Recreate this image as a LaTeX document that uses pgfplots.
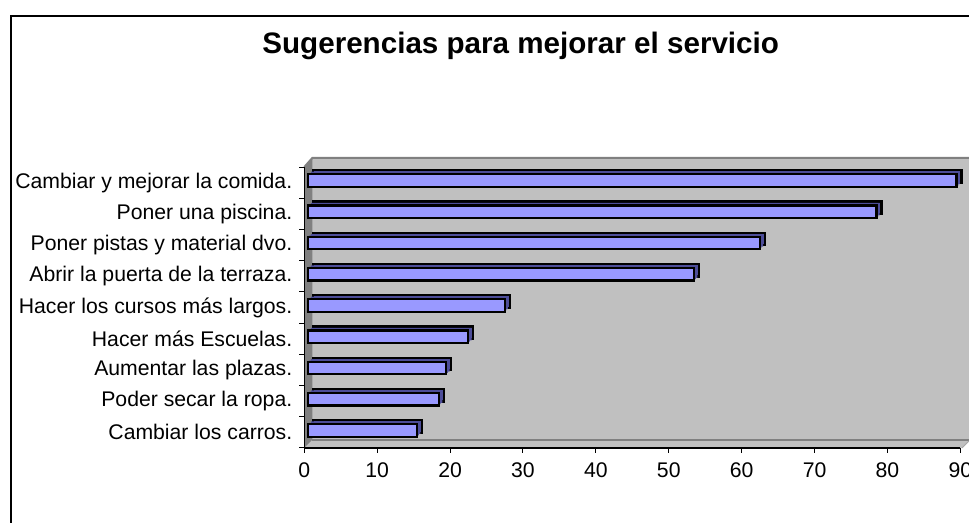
\documentclass[border=0pt]{standalone}
\usepackage{fontspec}
\setmainfont{Liberation Sans}
\usepackage{pgfplots}
\usepackage{pgfplotstable}
\pgfplotsset{compat=1.18}
\definecolor{barfill}{HTML}{9999FF}
\definecolor{barside}{HTML}{4D4D99}
\definecolor{wall}{HTML}{C0C0C0}
\definecolor{wallside}{HTML}{808080}

\pgfplotstableread{
v c
15 0
18 1
19 2
22 3
27 4
53 5
62 6
78 7
89 8
}\datatable

\begin{document}
\begin{tikzpicture}
\useasboundingbox (-152.15pt,-37.5pt) rectangle (332.35pt,224pt);
% chart frame
\draw[line width=0.6pt] (-146.65pt,-45pt) -- (-146.65pt,216pt) -- (345pt,216pt);
% title
\node[anchor=base west, inner sep=0pt, font=\fontsize{14.8}{17}\selectfont\bfseries] at (-21.15pt,197pt) {Sugerencias para mejorar el servicio};
% 3D walls
\fill[wall] (4pt,4pt) rectangle (332.85pt,145pt);
\fill[wallside] (0,0) -- (0,140.5pt) -- (4pt,145pt) -- (4pt,4pt) -- cycle;
\fill[wall] (0,0) -- (4pt,4pt) -- (332.85pt,4pt) -- (328.85pt,0) -- cycle;
\draw[wallside, line width=0.9pt] (4pt,4pt) -- (332.85pt,4pt);
\draw[wallside, line width=1pt] (0,140.5pt) -- (4pt,145pt) -- (332.85pt,145pt);
\draw[wallside!70, line width=0.5pt] (328.85pt,0) -- (332.85pt,4pt);
\begin{axis}[
  at={(0pt,0pt)}, anchor=south west,
  scale only axis, width=328.05pt, height=140.5pt,
  xmin=0, xmax=90, ymin=-0.5, ymax=8.5,
  axis lines*=left,
  axis line style={line width=0.6pt, black},
  xtick={0,10,20,30,40,50,60,70,80,90},
  ytick={-0.5,0.5,1.5,2.5,3.5,4.5,5.5,6.5,7.5,8.5},
  yticklabels={Cambiar los carros., Poder secar la ropa., Aumentar las plazas., Hacer más Escuelas., Hacer los cursos más largos., Abrir la puerta de la terraza., Poner pistas y material dvo., Poner una piscina., Cambiar y mejorar la comida., {}},
  yticklabel style={yshift=7.806pt},
  xticklabel style={yshift=-1.5pt},
  tick align=outside, major tick length=2.5pt,
  tick style={black, line width=0.5pt},
  tick label style={font=\fontsize{10.6}{12}\selectfont},
  /pgf/number format/assume math mode=true,
  clip=false,
]
\addplot[xbar, bar width=6.25pt, bar shift=3pt, xshift=4.25pt, fill=barside, draw=black, line width=1.1pt] table[x=v,y=c]{\datatable};
\addplot[xbar, bar width=6.25pt, bar shift=2.33pt, xshift=3.42pt, fill=barside, draw=none] table[x=v,y=c]{\datatable};
\addplot[xbar, bar width=6.25pt, bar shift=1.67pt, xshift=2.58pt, fill=barside, draw=none] table[x=v,y=c]{\datatable};
\addplot[xbar, bar width=6.25pt, bar shift=1pt, xshift=1.75pt, fill=barfill, draw=black, line width=1.1pt] table[x=v,y=c]{\datatable};
\end{axis}
\end{tikzpicture}
\end{document}
